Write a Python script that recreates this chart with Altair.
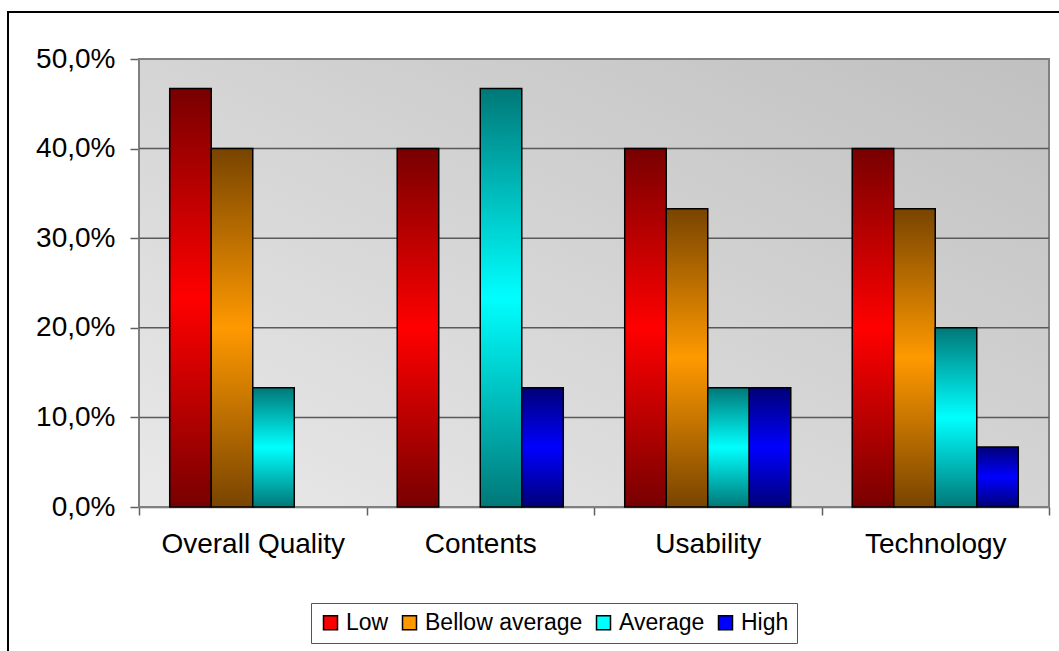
import altair as alt
import pandas as pd

categories = ["Overall Quality", "Contents", "Usability", "Technology"]
series = ["Low", "Bellow average", "Average", "High"]
low = [0.467, 0.400, 0.400, 0.400]
bellow = [0.400, 0.0, 0.333, 0.333]
average = [0.133, 0.467, 0.133, 0.200]
high = [0.0, 0.133, 0.133, 0.067]
y_ticks = [0.0, 0.1, 0.2, 0.3, 0.4, 0.5]
grid_values = [0.1, 0.2, 0.3, 0.4]

dark = ["#780000", "#784400", "#007878", "#000078"]
bright = ["#ff0000", "#ff9900", "#00ffff", "#0000ff"]

W, H = 910, 448
FONT = "Liberation Sans"
FS = 28
LFS = 23

rows = []
for s, vals in zip(series, [low, bellow, average, high]):
    for c, v in zip(categories, vals):
        rows.append({"category": c, "series": s, "value": v})
df = pd.DataFrame(rows)

x_enc = alt.X(
    "category:N", sort=categories,
    scale=alt.Scale(paddingInner=0, paddingOuter=0),
    axis=alt.Axis(title=None, labelAngle=0, tickBand="extent", tickSize=8,
                  tickColor="#606060", tickWidth=1.5, domainColor="#606060",
                  domainWidth=1.5, labelFontSize=FS, labelFont=FONT,
                  labelColor="black", labelPadding=15, labelLimit=600),
)
xo_enc = alt.XOffset("series:N", sort=series,
                     scale=alt.Scale(domain=series, paddingInner=0, paddingOuter=0.74))
y_scale = alt.Scale(domain=[0, 0.5], nice=False, zero=True)
y_axis = alt.Axis(title=None, values=y_ticks, grid=False,
                  labelExpr="replace(format(datum.value, '.1%'), '.', ',')",
                  tickSize=9, tickColor="#606060", tickWidth=1.5,
                  domainColor="#808080", domainWidth=2,
                  labelFontSize=FS, labelFont=FONT, labelColor="black",
                  labelPadding=15, labelLimit=300)

bg_grad = alt.LinearGradient(
    gradient="linear", x1=0, y1=1, x2=1, y2=0,
    stops=[alt.GradientStop(offset=0, color="#e9e9e9"),
           alt.GradientStop(offset=1, color="#c0c0c0")])

one = pd.DataFrame({"a": [0]})
background = alt.Chart(one).mark_rect(
    fill=bg_grad, stroke="#808080", strokeWidth=2
).encode(x=alt.value(0), x2=alt.value(W), y=alt.value(0), y2=alt.value(H))

grid = alt.Chart(pd.DataFrame({"value": grid_values})).mark_rule(
    color="#5a5a5a", strokeWidth=1.5
).encode(y=alt.Y("value:Q", scale=y_scale, axis=y_axis))

bar_layers = []
for s, d, b in zip(series, dark, bright):
    grad = alt.LinearGradient(
        gradient="linear", x1=0, y1=0, x2=0, y2=1,
        stops=[alt.GradientStop(offset=0, color=d),
               alt.GradientStop(offset=0.5, color=b),
               alt.GradientStop(offset=1, color=d)])
    bar_layers.append(
        alt.Chart(df)
        .transform_filter(alt.datum.series == s)
        .transform_filter(alt.datum.value > 0)
        .mark_bar(color=grad, stroke="black", strokeWidth=1.5)
        .encode(x=x_enc, xOffset=xo_enc,
                y=alt.Y("value:Q", scale=y_scale, axis=y_axis))
    )

legend_layer = alt.Chart(df).transform_filter("datum.value < 0").mark_square(
    size=0, opacity=1
).encode(
    color=alt.Color("series:N", sort=series,
                    scale=alt.Scale(domain=series, range=bright),
                    legend=alt.Legend(
                        title=None, orient="none", legendX=172, legendY=544,
                        direction="horizontal", columns=4, symbolType="square",
                        symbolSize=196, symbolStrokeColor="black",
                        symbolStrokeWidth=1.5, symbolOpacity=1,
                        labelFontSize=LFS, labelFont=FONT, labelColor="black",
                        labelOffset=4, columnPadding=9, padding=8,
                        strokeColor="#555555", fillColor="white"))
)

border = alt.Chart(one).mark_rect(
    fillOpacity=0, stroke="black", strokeWidth=2
).encode(x=alt.value(-131), x2=alt.value(W + 200),
         y=alt.value(-47), y2=alt.value(H + 300))

chart = alt.layer(background, grid, *bar_layers, legend_layer, border).properties(
    width=W, height=H,
    autosize=alt.AutoSizeParams(type="none"),
    padding={"left": 139, "top": 59, "right": 10, "bottom": 144},
).configure(font=FONT, background="white").configure_view(stroke=None)

chart.save("out.html", embed_options={"renderer": "svg", "actions": False})
